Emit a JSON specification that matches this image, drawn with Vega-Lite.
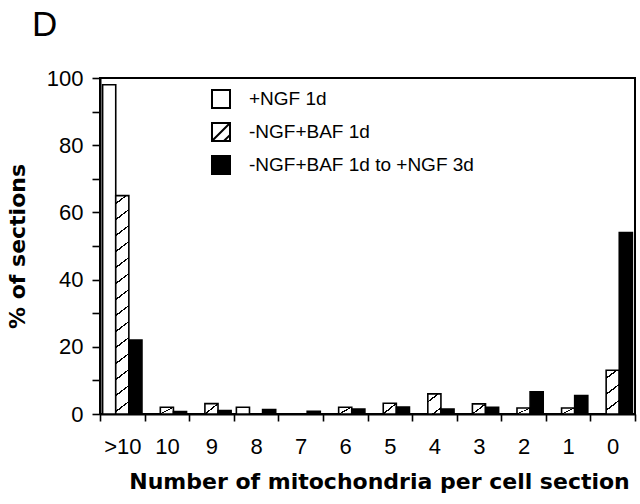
{
  "$schema": "https://vega.github.io/schema/vega-lite/v6.json",
  "width": 535,
  "height": 336,
  "autosize": "none",
  "padding": {"left": 100, "top": 78, "right": 5, "bottom": 90},
  "background": "white",
  "title": {"text": "D", "anchor": "start", "frame": "group", "dx": -68, "offset": 24, "fontSize": 35, "fontWeight": "normal", "font": "Liberation Sans", "color": "black"},
  "data": {"values": [
    {"cat": ">10", "series": "+NGF 1d", "value": 98},
    {"cat": ">10", "series": "-NGF+BAF 1d", "value": 65},
    {"cat": ">10", "series": "-NGF+BAF 1d to +NGF 3d", "value": 22},
    {"cat": "10", "series": "+NGF 1d", "value": 0},
    {"cat": "10", "series": "-NGF+BAF 1d", "value": 2},
    {"cat": "10", "series": "-NGF+BAF 1d to +NGF 3d", "value": 0.7},
    {"cat": "9", "series": "+NGF 1d", "value": 0},
    {"cat": "9", "series": "-NGF+BAF 1d", "value": 3.1},
    {"cat": "9", "series": "-NGF+BAF 1d to +NGF 3d", "value": 1},
    {"cat": "8", "series": "+NGF 1d", "value": 2},
    {"cat": "8", "series": "-NGF+BAF 1d", "value": 0},
    {"cat": "8", "series": "-NGF+BAF 1d to +NGF 3d", "value": 1.3},
    {"cat": "7", "series": "+NGF 1d", "value": 0},
    {"cat": "7", "series": "-NGF+BAF 1d", "value": 0},
    {"cat": "7", "series": "-NGF+BAF 1d to +NGF 3d", "value": 0.8},
    {"cat": "6", "series": "+NGF 1d", "value": 0},
    {"cat": "6", "series": "-NGF+BAF 1d", "value": 2},
    {"cat": "6", "series": "-NGF+BAF 1d to +NGF 3d", "value": 1.5},
    {"cat": "5", "series": "+NGF 1d", "value": 0},
    {"cat": "5", "series": "-NGF+BAF 1d", "value": 3.2},
    {"cat": "5", "series": "-NGF+BAF 1d to +NGF 3d", "value": 2.1},
    {"cat": "4", "series": "+NGF 1d", "value": 0},
    {"cat": "4", "series": "-NGF+BAF 1d", "value": 6},
    {"cat": "4", "series": "-NGF+BAF 1d to +NGF 3d", "value": 1.5},
    {"cat": "3", "series": "+NGF 1d", "value": 0},
    {"cat": "3", "series": "-NGF+BAF 1d", "value": 3},
    {"cat": "3", "series": "-NGF+BAF 1d to +NGF 3d", "value": 2},
    {"cat": "2", "series": "+NGF 1d", "value": 0},
    {"cat": "2", "series": "-NGF+BAF 1d", "value": 1.8},
    {"cat": "2", "series": "-NGF+BAF 1d to +NGF 3d", "value": 6.6},
    {"cat": "1", "series": "+NGF 1d", "value": 0},
    {"cat": "1", "series": "-NGF+BAF 1d", "value": 1.8},
    {"cat": "1", "series": "-NGF+BAF 1d to +NGF 3d", "value": 5.5},
    {"cat": "0", "series": "+NGF 1d", "value": 0},
    {"cat": "0", "series": "-NGF+BAF 1d", "value": 13},
    {"cat": "0", "series": "-NGF+BAF 1d to +NGF 3d", "value": 54}
  ]},
  "mark": {"type": "bar", "stroke": "black", "strokeWidth": 1.6, "opacity": 1},
  "encoding": {
    "x": {
      "field": "cat", "type": "nominal",
      "sort": [">10", "10", "9", "8", "7", "6", "5", "4", "3", "2", "1", "0"],
      "scale": {"paddingInner": 0, "paddingOuter": 0},
      "axis": {
        "title": "Number of mitochondria per cell section",
        "labelAngle": 0, "tickBand": "extent",
        "labelFont": "Liberation Sans", "labelFontSize": 22, "labelPadding": 15,
        "tickSize": 7, "tickWidth": 1.6, "domainWidth": 2,
        "titleFont": "DejaVu Sans", "titleFontSize": 22, "titleFontWeight": "bold", "titlePadding": 14,
        "titleAnchor": "middle", "titleX": 279
      }
    },
    "xOffset": {
      "field": "series", "type": "nominal",
      "sort": ["+NGF 1d", "-NGF+BAF 1d", "-NGF+BAF 1d to +NGF 3d"],
      "scale": {"paddingInner": 0, "paddingOuter": 0.2}
    },
    "y": {
      "field": "value", "type": "quantitative",
      "scale": {"domain": [0, 100], "nice": false},
      "axis": {
        "title": "% of sections",
        "values": [0, 10, 20, 30, 40, 50, 60, 70, 80, 90, 100],
        "labelExpr": "datum.value % 20 === 0 ? datum.label : ''",
        "labelFont": "Liberation Sans", "labelFontSize": 22, "labelPadding": 9,
        "tickSize": 8, "tickWidth": 1.6, "domainWidth": 2,
        "titleFont": "DejaVu Sans", "titleFontSize": 22, "titleFontWeight": "bold", "titlePadding": 17
      }
    },
    "fill": {
      "field": "series", "type": "nominal",
      "scale": {"domain": ["+NGF 1d", "-NGF+BAF 1d", "-NGF+BAF 1d to +NGF 3d"], "range": ["white", "white", "black"]},
      "condition": [
        {"test": "datum.series === '-NGF+BAF 1d' && datum.cat === '>10'", "value": {"gradient": "linear", "x1": 0, "y1": 0, "x2": 0.0628, "y2": 1.3707, "stops": [
          {"offset": 0, "color": "white"},
          {"offset": 0.0240, "color": "white"}, {"offset": 0.0240, "color": "black"}, {"offset": 0.0293, "color": "black"}, {"offset": 0.0293, "color": "white"},
          {"offset": 0.0773, "color": "white"}, {"offset": 0.0773, "color": "black"}, {"offset": 0.0827, "color": "black"}, {"offset": 0.0827, "color": "white"},
          {"offset": 0.1307, "color": "white"}, {"offset": 0.1307, "color": "black"}, {"offset": 0.1360, "color": "black"}, {"offset": 0.1360, "color": "white"},
          {"offset": 0.1840, "color": "white"}, {"offset": 0.1840, "color": "black"}, {"offset": 0.1893, "color": "black"}, {"offset": 0.1893, "color": "white"},
          {"offset": 0.2373, "color": "white"}, {"offset": 0.2373, "color": "black"}, {"offset": 0.2427, "color": "black"}, {"offset": 0.2427, "color": "white"},
          {"offset": 0.2907, "color": "white"}, {"offset": 0.2907, "color": "black"}, {"offset": 0.2960, "color": "black"}, {"offset": 0.2960, "color": "white"},
          {"offset": 0.3440, "color": "white"}, {"offset": 0.3440, "color": "black"}, {"offset": 0.3493, "color": "black"}, {"offset": 0.3493, "color": "white"},
          {"offset": 0.3973, "color": "white"}, {"offset": 0.3973, "color": "black"}, {"offset": 0.4027, "color": "black"}, {"offset": 0.4027, "color": "white"},
          {"offset": 0.4507, "color": "white"}, {"offset": 0.4507, "color": "black"}, {"offset": 0.4560, "color": "black"}, {"offset": 0.4560, "color": "white"},
          {"offset": 0.5040, "color": "white"}, {"offset": 0.5040, "color": "black"}, {"offset": 0.5093, "color": "black"}, {"offset": 0.5093, "color": "white"},
          {"offset": 0.5573, "color": "white"}, {"offset": 0.5573, "color": "black"}, {"offset": 0.5627, "color": "black"}, {"offset": 0.5627, "color": "white"},
          {"offset": 0.6107, "color": "white"}, {"offset": 0.6107, "color": "black"}, {"offset": 0.6160, "color": "black"}, {"offset": 0.6160, "color": "white"},
          {"offset": 0.6640, "color": "white"}, {"offset": 0.6640, "color": "black"}, {"offset": 0.6693, "color": "black"}, {"offset": 0.6693, "color": "white"},
          {"offset": 0.7173, "color": "white"}, {"offset": 0.7173, "color": "black"}, {"offset": 0.7227, "color": "black"}, {"offset": 0.7227, "color": "white"},
          {"offset": 1, "color": "white"}
        ]}},
        {"test": "datum.series === '-NGF+BAF 1d' && datum.cat === '0'", "value": {"gradient": "linear", "x1": 0, "y1": 0, "x2": 0.2988, "y2": 1.3052, "stops": [
          {"offset": 0, "color": "white"},
          {"offset": 0.1200, "color": "white"}, {"offset": 0.1200, "color": "black"}, {"offset": 0.1467, "color": "black"}, {"offset": 0.1467, "color": "white"},
          {"offset": 0.3867, "color": "white"}, {"offset": 0.3867, "color": "black"}, {"offset": 0.4133, "color": "black"}, {"offset": 0.4133, "color": "white"},
          {"offset": 0.6533, "color": "white"}, {"offset": 0.6533, "color": "black"}, {"offset": 0.6800, "color": "black"}, {"offset": 0.6800, "color": "white"},
          {"offset": 1, "color": "white"}
        ]}},
        {"test": "datum.series === '-NGF+BAF 1d' && datum.cat === '4'", "value": {"gradient": "linear", "x1": 0, "y1": 0, "x2": 0.7899, "y2": 1.5924, "stops": [
          {"offset": 0, "color": "white"},
          {"offset": 0.18, "color": "white"}, {"offset": 0.18, "color": "black"}, {"offset": 0.22, "color": "black"}, {"offset": 0.22, "color": "white"},
          {"offset": 0.58, "color": "white"}, {"offset": 0.58, "color": "black"}, {"offset": 0.62, "color": "black"}, {"offset": 0.62, "color": "white"},
          {"offset": 1, "color": "white"}
        ]}},
        {"test": "datum.series === '-NGF+BAF 1d'", "value": {"gradient": "linear", "x1": 0, "y1": 0, "x2": 1, "y2": 1, "stops": [
          {"offset": 0, "color": "white"},
          {"offset": 0.46, "color": "white"}, {"offset": 0.46, "color": "black"}, {"offset": 0.54, "color": "black"}, {"offset": 0.54, "color": "white"},
          {"offset": 1, "color": "white"}
        ]}}
      ],
      "legend": {
        "orient": "none", "legendX": 111, "legendY": 11, "title": null, "padding": 0,
        "symbolType": {"expr": "datum.value === '-NGF+BAF 1d' ? 'M-1,-1L1,-1L1,1L-1,1Z M-0.95,0.95L0.95,-0.95 M0.35,0.98L0.98,0.35' : 'square'"},
        "symbolSize": 324, "symbolStrokeColor": "black", "symbolStrokeWidth": 2, "symbolOpacity": 1,
        "labelFont": "Liberation Sans", "labelFontSize": 19, "labelColor": "black", "labelOffset": 18, "labelLimit": 500, "rowPadding": 7
      }
    }
  },
  "config": {
    "view": {"stroke": "black", "strokeWidth": 2},
    "axis": {"domainColor": "black", "tickColor": "black", "labelColor": "black", "titleColor": "black", "grid": false}
  }
}
